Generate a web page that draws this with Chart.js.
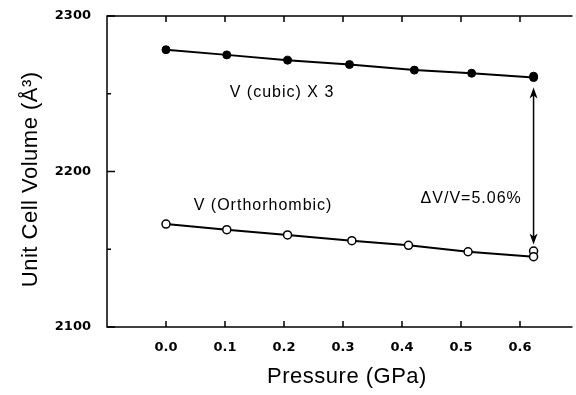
<!DOCTYPE html>
<html lang="en">
<head>
    <meta charset="UTF-8">
    <script src="https://cdn.jsdelivr.net/npm/chart.js"></script>
    <title>Unit cell volume vs pressure</title>
    <style>
        html, body { margin: 0; padding: 0; background: #fff; overflow: hidden; }
        canvas { display: block; }
    </style>
</head>
<body>
    <canvas id="myChart" width="576" height="395"></canvas>

<script>
    // valores
    const pressaoCubic = [0.0, 0.103, 0.206, 0.311, 0.421, 0.518, 0.623];
    const volumeCubic = [2278.3, 2275.0, 2271.6, 2268.8, 2265.2, 2263.2, 2260.4];
    const pressaoOrto = [0.0, 0.103, 0.206, 0.315, 0.411, 0.512, 0.623];
    const volumeOrto = [2166.2, 2162.6, 2159.2, 2155.5, 2152.5, 2148.4, 2145.2];
    // pontos repetidos na última pressão (sem linha)
    const pressaoExtra = [0.623];
    const volumeCubicExtra = [2261.3];
    const volumeOrtoExtra = [2148.8];
    const xTicks = [0.0, 0.1, 0.2, 0.3, 0.4, 0.5, 0.6];
    const yTicks = [2100, 2200, 2300];
    const yMinor = [2150, 2250];
    const seta = { x: 0.623, topo: 2254, base: 2153 };

    const fonte = "'Liberation Sans', Arial, sans-serif";

    function pontos(xs, ys) {
        return xs.map((x, i) => ({ x: x, y: ys[i] }));
    }

    const moldura = {
        id: 'moldura',
        afterDraw(chart) {
            const ctx = chart.ctx;
            const a = chart.chartArea;
            const sx = chart.scales.x;
            const sy = chart.scales.y;
            ctx.save();
            ctx.strokeStyle = '#000';
            ctx.lineWidth = 1.5;
            ctx.beginPath();
            ctx.moveTo(a.right + 2, a.top);
            ctx.lineTo(a.left, a.top);
            ctx.lineTo(a.left, a.bottom);
            ctx.lineTo(a.right + 2, a.bottom);
            ctx.stroke();

            ctx.beginPath();
            xTicks.forEach(v => {
                const px = sx.getPixelForValue(v);
                ctx.moveTo(px, a.bottom);
                ctx.lineTo(px, a.bottom - 6);
                ctx.moveTo(px, a.top);
                ctx.lineTo(px, a.top + 6);
            });
            yTicks.forEach(v => {
                const py = sy.getPixelForValue(v);
                ctx.moveTo(a.left, py);
                ctx.lineTo(a.left + 8, py);
            });
            yMinor.forEach(v => {
                const py = sy.getPixelForValue(v);
                ctx.moveTo(a.left, py);
                ctx.lineTo(a.left + 4, py);
            });
            ctx.stroke();

            // seta dupla
            const ax = sx.getPixelForValue(seta.x);
            const y1 = sy.getPixelForValue(seta.topo);
            const y2 = sy.getPixelForValue(seta.base);
            ctx.lineWidth = 1.5;
            ctx.beginPath();
            ctx.moveTo(ax, y1 + 4);
            ctx.lineTo(ax, y2 - 4);
            ctx.stroke();
            ctx.fillStyle = '#000';
            ctx.beginPath();
            ctx.moveTo(ax, y1);
            ctx.lineTo(ax - 4, y1 + 11);
            ctx.lineTo(ax, y1 + 8);
            ctx.lineTo(ax + 4, y1 + 11);
            ctx.closePath();
            ctx.fill();
            ctx.beginPath();
            ctx.moveTo(ax, y2);
            ctx.lineTo(ax - 4, y2 - 11);
            ctx.lineTo(ax, y2 - 8);
            ctx.lineTo(ax + 4, y2 - 11);
            ctx.closePath();
            ctx.fill();

            // textos
            ctx.fillStyle = '#000';
            ctx.textBaseline = 'middle';
            ctx.font = '16px ' + fonte;
            ctx.letterSpacing = '1px';
            ctx.textAlign = 'left';
            ctx.fillText('V (cubic) X 3', sx.getPixelForValue(0.108), sy.getPixelForValue(2251));
            ctx.fillText('V (Orthorhombic)', sx.getPixelForValue(0.047), sy.getPixelForValue(2178));
            ctx.textAlign = 'right';
            ctx.fillText('\u0394V/V=5.06%', sx.getPixelForValue(0.603), sy.getPixelForValue(2182.6));

            ctx.letterSpacing = '0.5px';
            ctx.font = '22px ' + fonte;
            ctx.textAlign = 'center';
            ctx.fillText('Pressure (GPa)', sx.getPixelForValue(0.3) + 4, 377);

            ctx.translate(31, sy.getPixelForValue(2195));
            ctx.rotate(-Math.PI / 2);
            ctx.fillText('Unit Cell Volume (\u00C5\u00B3)', 0, 0);
            ctx.restore();
        }
    };

    const ctx1 = document.getElementById('myChart').getContext('2d');
    const chart1 = new Chart(ctx1, {
        type: 'scatter',
        data: {
            datasets: [{
                label: 'V (cubic) X 3',
                data: pontos(pressaoCubic, volumeCubic),
                showLine: true,
                borderColor: '#000',
                borderWidth: 2,
                backgroundColor: '#000',
                pointBackgroundColor: '#000',
                pointBorderColor: '#000',
                pointBorderWidth: 1,
                pointRadius: 4
            }, {
                label: 'V (cubic) extra',
                data: pontos(pressaoExtra, volumeCubicExtra),
                showLine: false,
                pointBackgroundColor: '#000',
                pointBorderColor: '#000',
                pointBorderWidth: 1,
                pointRadius: 4
            }, {
                label: 'V (Orthorhombic)',
                data: pontos(pressaoOrto, volumeOrto),
                showLine: true,
                borderColor: '#000',
                borderWidth: 2,
                backgroundColor: '#fff',
                pointBackgroundColor: '#fff',
                pointBorderColor: '#000',
                pointBorderWidth: 1.5,
                pointRadius: 4
            }, {
                label: 'V (Orthorhombic) extra',
                data: pontos(pressaoExtra, volumeOrtoExtra),
                showLine: false,
                pointBackgroundColor: '#fff',
                pointBorderColor: '#000',
                pointBorderWidth: 1.5,
                pointRadius: 4
            }]
        },
        options: {
            responsive: false,
            animation: false,
            devicePixelRatio: 1,
            layout: { padding: { top: 16, right: 0, left: 0, bottom: 0 } },
            plugins: {
                legend: { display: false },
                tooltip: { enabled: false }
            },
            scales: {
                x: {
                    type: 'linear',
                    min: -0.1,
                    max: 0.6856,
                    grid: { display: false, drawTicks: false },
                    border: { display: false },
                    afterBuildTicks: s => { s.ticks = xTicks.map(v => ({ value: v })); },
                    afterFit: s => {
                        s.height = 68;
                        s.paddingLeft = 0;
                        s.paddingRight = 0;
                    },
                    ticks: {
                        padding: 13,
                        color: '#000',
                        maxRotation: 0,
                        autoSkip: false,
                        font: { family: 'DejaVu Sans', weight: 'bold', size: 13 },
                        callback: v => v.toFixed(1)
                    }
                },
                y: {
                    min: 2100,
                    max: 2300,
                    grid: { display: false, drawTicks: false },
                    border: { display: false },
                    afterBuildTicks: s => { s.ticks = yTicks.map(v => ({ value: v })); },
                    afterFit: s => {
                        s.width = 107;
                        s.paddingTop = 0;
                        s.paddingBottom = 0;
                    },
                    ticks: {
                        padding: 16,
                        color: '#000',
                        font: { family: 'DejaVu Sans', weight: 'bold', size: 13 },
                        callback: v => String(v)
                    }
                }
            }
        },
        plugins: [moldura]
    });
</script>
</body>
</html>
